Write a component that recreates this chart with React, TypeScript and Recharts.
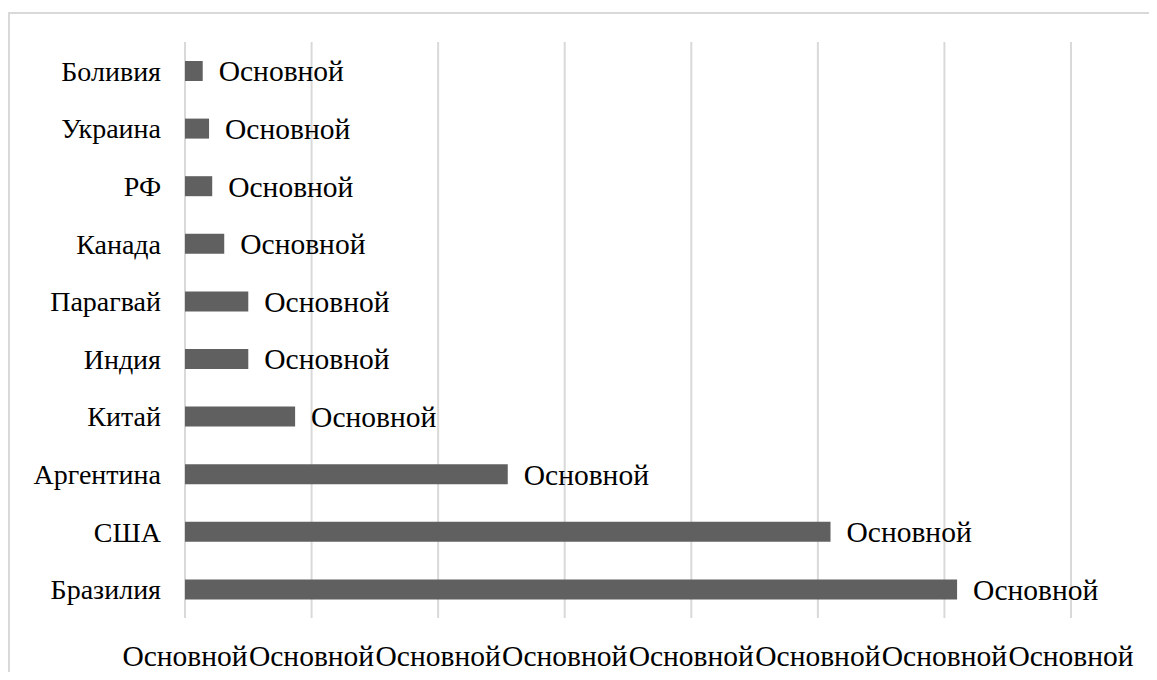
import { BarChart, Bar, XAxis, YAxis, CartesianGrid, LabelList } from 'recharts';

const countries = ['Боливия', 'Украина', 'РФ', 'Канада', 'Парагвай', 'Индия', 'Китай', 'Аргентина', 'США', 'Бразилия'];
const values = [2.8, 3.8, 4.3, 6.2, 10, 10, 17.4, 51, 102, 122];
const xTicks = [0, 20, 40, 60, 80, 100, 120, 140];
const label = 'Основной';

const data = countries.map((c, i) => ({ name: c, value: values[i] }));

const font = 'Liberation Serif';
const catStyle = { fontSize: 28, fill: '#000', fontFamily: font };
const valStyle = { fontSize: 29.5, fill: '#000', fontFamily: font };

export default function App() {
  return (
    <div style={{ position: 'relative', width: 1157, height: 680, margin: -8, background: '#fff', overflow: 'hidden', fontFamily: font }}>
      {/* outer frame */}
      <div style={{ position: 'absolute', left: 8, top: 12, width: 1160, height: 700, borderTop: '2px solid #d9d9d9', borderLeft: '2px solid #d9d9d9' }} />
      <div style={{ position: 'absolute', left: 0, top: 0 }}>
        <BarChart
          width={1157}
          height={680}
          data={data}
          layout="vertical"
          margin={{ top: 42, right: 86, left: 0, bottom: 0 }}
          barCategoryGap={0}
          style={{ fontFamily: font }}
        >
          <CartesianGrid horizontal={false} stroke="#d9d9d9" strokeWidth={2} />
          <XAxis
            type="number"
            domain={[0, 140]}
            ticks={xTicks}
            interval={0}
            tickFormatter={() => label}
            tick={valStyle}
            axisLine={false}
            tickLine={false}
            tickSize={0}
            tickMargin={27}
            height={62}
          />
          <YAxis
            type="category"
            dataKey="name"
            width={185}
            tick={catStyle}
            axisLine={false}
            tickLine={false}
            tickSize={0}
            tickMargin={24}
          />
          <Bar dataKey="value" fill="#606060" barSize={20} isAnimationActive={false}>
            <LabelList
              dataKey="value"
              position="right"
              offset={16}
              formatter={() => label}
              style={valStyle}
            />
          </Bar>
        </BarChart>
      </div>
    </div>
  );
}
